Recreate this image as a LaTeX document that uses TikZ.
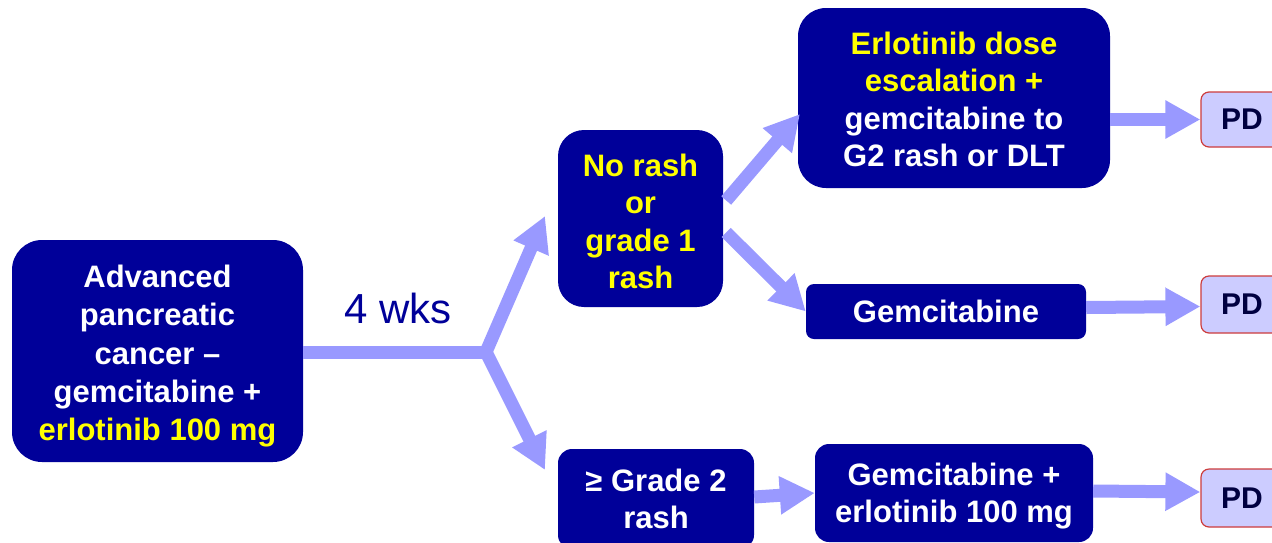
\documentclass[tikz,border=0pt]{standalone}
\usepackage{fontspec}
\setmainfont{Liberation Sans}
\usetikzlibrary{arrows.meta,calc}
\definecolor{navy}{RGB}{0,0,153}
\definecolor{flow}{RGB}{153,153,255}
\definecolor{pdfill}{RGB}{204,204,255}
\definecolor{pdedge}{RGB}{204,60,60}
\definecolor{pdtext}{RGB}{0,0,64}
\definecolor{hl}{RGB}{255,255,0}
\newcommand\topgap[1]{\rule{0pt}{#1}}
\begin{document}
\begin{tikzpicture}[x=1pt,y=-1pt,
  box/.style={fill=navy, rounded corners=#1, text=white,
    font=\fontsize{31}{37.5}\selectfont\bfseries, align=center, inner sep=0pt},
  box/.default=28pt,
  pdbox/.style={fill=pdfill, draw=pdedge, line width=1.2pt, rounded corners=8pt,
    text=pdtext, font=\fontsize{30}{36}\selectfont\bfseries, inner sep=0pt,
    minimum width=82pt},
  fat/.style={draw=flow, line width=13pt},
  fatarrow/.style={fat, -{Triangle[length=35pt,width=36pt]}},
  ]
\useasboundingbox (0,0) rectangle (1272,542);
\clip (0,0) rectangle (1272,542);

% boxes
\node[box=30pt, minimum width=291pt, minimum height=222pt,
  font=\fontsize{31}{38.3}\selectfont\bfseries] (adv) at (157.5,351)
  {\topgap{33pt}Advanced\\pancreatic\\cancer –\\gemcitabine +\\\textcolor{hl}{erlotinib 100 mg}};
\node[box=26pt, minimum width=165pt, minimum height=177pt, text=hl] (norash) at (640.5,218.5)
  {\topgap{28.6pt}No rash\\or\\grade 1\\rash};
\node[box=28pt, minimum width=312pt, minimum height=180pt] (esc) at (954,98)
  {\topgap{25.6pt}\textcolor{hl}{Erlotinib dose}\\\textcolor{hl}{escalation +}\\gemcitabine to\\G2 rash or DLT};
\node[box=8pt, minimum width=280pt, minimum height=55pt] (gem) at (946,311.5)
  {Gemcitabine};
\node[box=14pt, minimum width=196pt, minimum height=100pt] (g2) at (656,499)
  {≥ Grade 2\\rash};
\node[box=14pt, minimum width=278pt, minimum height=98pt] (gemerl) at (954,493)
  {\topgap{29pt}Gemcitabine +\\erlotinib 100 mg};

\node[pdbox, minimum height=55pt] (pd1) at (1242,119.5) {PD};
\node[pdbox, minimum height=57pt] (pd2) at (1242,304.5) {PD};
\node[pdbox, minimum height=58pt] (pd3) at (1242,498) {PD};

\node[text=navy, font=\fontsize{42}{50}\selectfont, inner sep=0pt] (wks) at (398,308) {4 wks};

% split arrow
\coordinate (j) at (487,352);
\coordinate (t1) at (545,216);
\coordinate (t2) at (545,470);
\coordinate (e1) at (800,114);
\draw[fat] (adv.east |- j) -- (j);
\draw[fatarrow, line join=miter] ($(j)+(-1,0)$) -- (t1);
\draw[fatarrow] ($(j)+(-1,0)$) -- (t2);

% from no rash
\draw[fatarrow] ($(norash.east)+(3,-18)$) -- (e1);
\draw[fatarrow] ($(norash.east)+(3,14)$) -- (gem.west);

% to PD and bottom chain
\draw[fatarrow] (esc.east |- pd1.west) -- (pd1.west);
\draw[fatarrow] ($(gem.east)+(0,-4)$) -- ($(pd2.west)+(0,2)$);
\draw[fatarrow] ($(g2.east)+(0,-2)$) -- (gemerl.west);
\draw[fatarrow] ($(gemerl.east)+(0,-2)$) -- ($(pd3.west)+(0,-6)$);
\end{tikzpicture}
\end{document}
